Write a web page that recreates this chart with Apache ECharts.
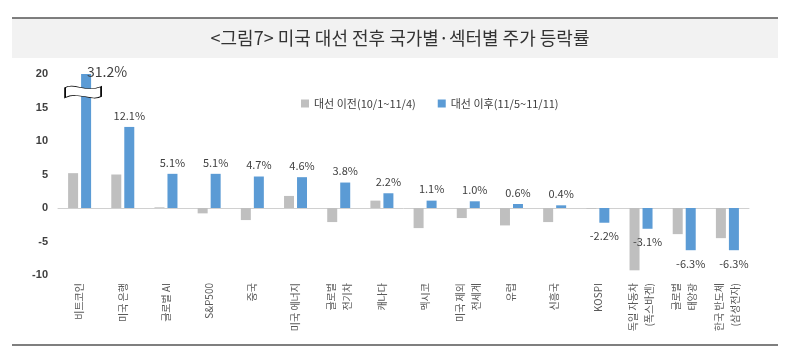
<!DOCTYPE html>
<html>
<head>
<meta charset="utf-8">
<script src="https://cdn.jsdelivr.net/npm/echarts@6/dist/echarts.min.js"></script>
<style>
  html, body { margin: 0; padding: 0; background: #fff; }
  #chart { width: 800px; height: 353px; }
</style>
</head>
<body>
<div id="chart"></div>
<script>
var categories = ['비트코인', '미국 은행', '글로벌 AI', 'S&P500', '중국', '미국 에너지', '글로벌\n전기차', '캐나다',
    '멕시코', '미국 제외\n전세계', '유럽', '신흥국', 'KOSPI', '독일 자동차\n(폭스바겐)', '글로벌\n태양광', '한국 반도체\n(삼성전자)'];
var beforeVals = [5.2, 5.0, 0.1, -0.8, -1.8, 1.8, -2.1, 1.1, -3.0, -1.5, -2.6, -2.1, -0.1, -9.3, -3.9, -4.5];
var afterVals = [31.2, 12.1, 5.1, 5.1, 4.7, 4.6, 3.8, 2.2, 1.1, 1.0, 0.6, 0.4, -2.2, -3.1, -6.3, -6.3];
var yTicks = [-10, -5, 0, 5, 10, 15, 20];

var font = '"Noto Sans CJK KR", "Noto Sans", sans-serif';
var yMax = yTicks[yTicks.length - 1];

var chart = echarts.init(document.getElementById('chart'));

// 축 범위를 넘는 값(비트코인)은 축 끝에서 잘라서 그림
var afterData = afterVals.map((v, i) => {
    var item = { value: Math.min(v, yMax) };
    if (v > yMax) {
        item.label = { position: 'top', offset: [21, 11], fontSize: 14 };
    } else if (v < 0) {
        item.label = { position: 'bottom', distance: 8 };
    }
    return item;
});

var option = {
    animation: false,
    title: {
        text: '<그림7> 미국 대선 전후 국가별·섹터별 주가 등락률',
        left: 'center',
        top: 24,
        textStyle: { fontFamily: font, fontSize: 18, fontWeight: 'normal', color: '#333' }
    },
    graphic: [
        { type: 'rect', z: -1, shape: { x: 12, y: 18, width: 766, height: 40 }, style: { fill: '#f2f2f2' } },
        { type: 'line', shape: { x1: 12, y1: 18, x2: 778, y2: 18 }, style: { stroke: '#555', lineWidth: 1.5 } },
        { type: 'line', shape: { x1: 12, y1: 345, x2: 778, y2: 345 }, style: { stroke: '#555', lineWidth: 1.5 } }
    ],
    legend: {
        left: 296,
        top: 93,
        icon: 'rect',
        itemWidth: 8,
        itemHeight: 8,
        itemGap: 22,
        textStyle: { fontFamily: font, fontSize: 11, color: '#404040' }
    },
    grid: { left: 58, right: 51, top: 74, bottom: 78 },
    xAxis: [
        {
            type: 'category',
            data: categories,
            axisLine: { onZero: true, lineStyle: { color: '#d0d0d0' } },
            axisTick: { show: false },
            axisLabel: { show: false }
        },
        {
            type: 'category',
            data: categories,
            position: 'bottom',
            axisLine: { show: false, onZero: false },
            axisTick: { show: false },
            axisLabel: { rotate: 90, margin: 8, fontFamily: font, fontSize: 10, color: '#595959', lineHeight: 16 }
        }
    ],
    yAxis: {
        type: 'value',
        min: yTicks[0],
        max: yMax,
        interval: 5,
        splitLine: { show: false },
        axisLine: { show: false },
        axisTick: { show: false },
        axisLabel: { margin: 10, fontFamily: 'Liberation Sans, sans-serif', fontSize: 11, fontWeight: 'bold', color: '#404040' }
    },
    series: [
        {
            name: '대선 이전(10/1~11/4)',
            type: 'bar',
            data: beforeVals,
            barWidth: 10,
            barGap: '30%',
            itemStyle: { color: '#bfbfbf' }
        },
        {
            name: '대선 이후(11/5~11/11)',
            type: 'bar',
            data: afterData,
            barWidth: 10,
            itemStyle: { color: '#5b9bd5' },
            label: {
                show: true,
                position: 'top',
                distance: 6,
                fontFamily: font,
                fontSize: 11,
                color: '#404040',
                formatter: p => afterVals[p.dataIndex].toFixed(1) + '%'
            },
            markPoint: {
                silent: true,
                symbol: 'path://M0,3 C9,-2 20,8 36,2 L36,11 C26,16 14,6 0,12 Z',
                symbolSize: [36, 12],
                symbolKeepAspect: false,
                itemStyle: { color: '#fff', borderColor: '#000', borderWidth: 1 },
                label: { show: false },
                data: [{ coord: [0, 17.3], symbolOffset: [-3, 0] }]
            }
        }
    ]
};

chart.setOption(option);
</script>
</body>
</html>
